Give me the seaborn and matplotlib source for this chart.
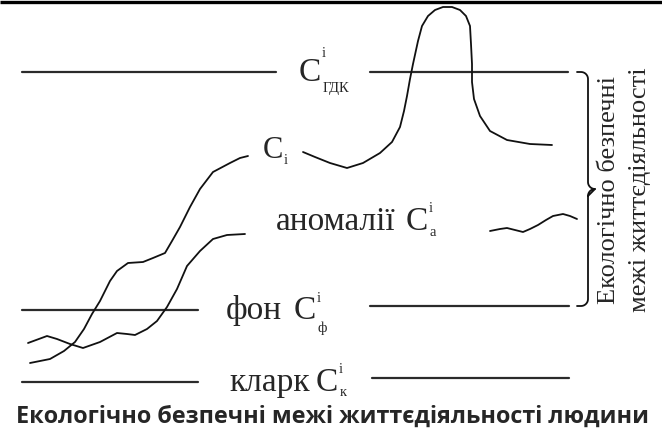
import matplotlib

matplotlib.use('Agg')

import numpy as np
import pandas as pd
import seaborn as sns
from matplotlib import pyplot as plt

# curves (pixel coords, y grows downward)
ci_rise_x = [30, 50, 64, 75, 84, 92, 100, 110, 117, 128, 143, 153, 165, 172, 180, 190, 200, 213, 230, 240, 248]
ci_rise_y = [364, 360, 352, 343, 330, 315, 302, 282, 272, 264, 263, 259, 254, 242, 228, 208, 190, 173, 164, 159, 157]

ci_peak_x = [303, 315, 330, 347, 363, 380, 392, 400, 404, 407, 410, 413, 418, 422, 428, 435, 443, 452, 460, 466,
             470, 471, 472, 472, 474, 480, 490, 507, 530, 552]
ci_peak_y = [153, 158, 164, 169, 164, 154, 143, 128, 112, 97, 80, 65, 42, 27, 17, 11, 8, 8, 11, 17,
             27, 45, 65, 83, 100, 117, 132, 141, 145, 146]

anom_left_x = [28, 47, 57, 70, 83, 100, 117, 127, 135, 147, 157, 167, 177, 187, 200, 213, 227, 245]
anom_left_y = [344, 337, 340, 345, 349, 343, 334, 335, 336, 330, 322, 308, 290, 267, 252, 240, 236, 235]

anom_right_x = [490, 500, 507, 515, 523, 530, 538, 546, 553, 563, 570, 577]
anom_right_y = [232, 230, 229, 231, 233, 230, 226, 221, 217, 215, 217, 220]

# reference levels: left / right segment heights and extents
levels = ['ГДК', 'фон', 'кларк']
level_y_left = [73, 311, 383]
level_y_right = [73, 307, 379]
left_x0 = [22, 22, 22]
left_x1 = [276, 198, 198]
right_x0 = [370, 370, 372]
right_x1 = [568, 569, 569]

caption = 'Екологічно безпечні межі життєдіяльності людини'
brace_text = ['Екологічно безпечні', 'межі життєдіяльності']

sns.set_theme(style='white')
plt.rcParams['font.family'] = ['Liberation Serif', 'DejaVu Serif']

fig = plt.figure(figsize=(6.62, 4.35), dpi=100)
ax = fig.add_axes([0, 0, 1, 1])
ax.set_xlim(0, 662)
ax.set_ylim(435, 0)
ax.axis('off')

# top border
ax.plot([0, 662], [3, 3], color='black', lw=2.4, solid_capstyle='butt')

# horizontal levels
seg = pd.DataFrame({'level': levels, 'yl': level_y_left, 'yr': level_y_right,
                    'xl0': left_x0, 'xl1': left_x1, 'xr0': right_x0, 'xr1': right_x1})
for _, r in seg.iterrows():
    ax.plot([r.xl0, r.xl1], [r.yl, r.yl], color='#2b2b2b', lw=1.6)
    ax.plot([r.xr0, r.xr1], [r.yr, r.yr], color='#2b2b2b', lw=1.6)

# curves
for xs, ys in [(ci_rise_x, ci_rise_y), (ci_peak_x, ci_peak_y),
               (anom_left_x, anom_left_y), (anom_right_x, anom_right_y)]:
    sns.lineplot(x=xs, y=ys, sort=False, estimator=None, color='#111111', lw=1.3, ax=ax)

# labels
big = 24
small = 10.5
ax.text(299, 81, 'C', fontsize=big, va='baseline')
ax.text(322, 57, 'i', fontsize=small, va='baseline')
ax.text(323, 92, 'ГДК', fontsize=small, va='baseline')

ax.text(263, 158, 'C', fontsize=big - 2, va='baseline')
ax.text(284, 164, 'i', fontsize=small, va='baseline')

ax.text(276, 230, 'аномалії', fontsize=big, va='baseline')
ax.text(406, 230, 'C', fontsize=big, va='baseline')
ax.text(429, 212, 'i', fontsize=small, va='baseline')
ax.text(429, 236, 'а', fontsize=small, va='baseline')

ax.text(226, 319, 'фон', fontsize=big, va='baseline')
ax.text(294, 319, 'C', fontsize=big, va='baseline')
ax.text(317, 302, 'i', fontsize=small, va='baseline')
ax.text(317, 332, 'ф', fontsize=small, va='baseline')

ax.text(229, 391, 'кларк', fontsize=big, va='baseline')
ax.text(316, 391, 'C', fontsize=big, va='baseline')
ax.text(339, 373, 'i', fontsize=small, va='baseline')
ax.text(340, 396, 'к', fontsize=small, va='baseline')

# curly brace on the right
top, bot, bx, tip, r = 73, 307, 588, 190, 7
t = np.linspace(0, np.pi / 2, 12)
upper = np.concatenate([
    np.c_[[bx - r - 4], [top]],
    np.c_[bx - r + r * np.sin(t), top + r - r * np.cos(t)],
    np.c_[[bx, bx], [top + r, tip - r]],
    np.c_[bx + r - r * np.cos(t), tip - r + r * np.sin(t)],
])
lower = np.concatenate([
    np.c_[bx + r - r * np.cos(t), tip + r - r * np.sin(t)],
    np.c_[[bx, bx], [tip + r, bot - r]],
    np.c_[bx - r + r * np.sin(t[::-1]), bot - r + r * np.cos(t[::-1])],
    np.c_[[bx - r - 4], [bot]],
])
ax.plot(upper[:, 0], upper[:, 1], color='#111111', lw=1.3)
ax.plot(lower[:, 0], lower[:, 1], color='#111111', lw=1.3)

ax.text(609, 190, brace_text[0], fontsize=19, rotation=90, ha='center', va='center')
ax.text(640, 190, brace_text[1], fontsize=19, rotation=90, ha='center', va='center')

ax.text(333, 423, caption, fontsize=16.8, fontweight='bold', ha='center', va='baseline',
        family=['Open Sans', 'DejaVu Sans'])

fig.savefig('out.png', dpi=100)
